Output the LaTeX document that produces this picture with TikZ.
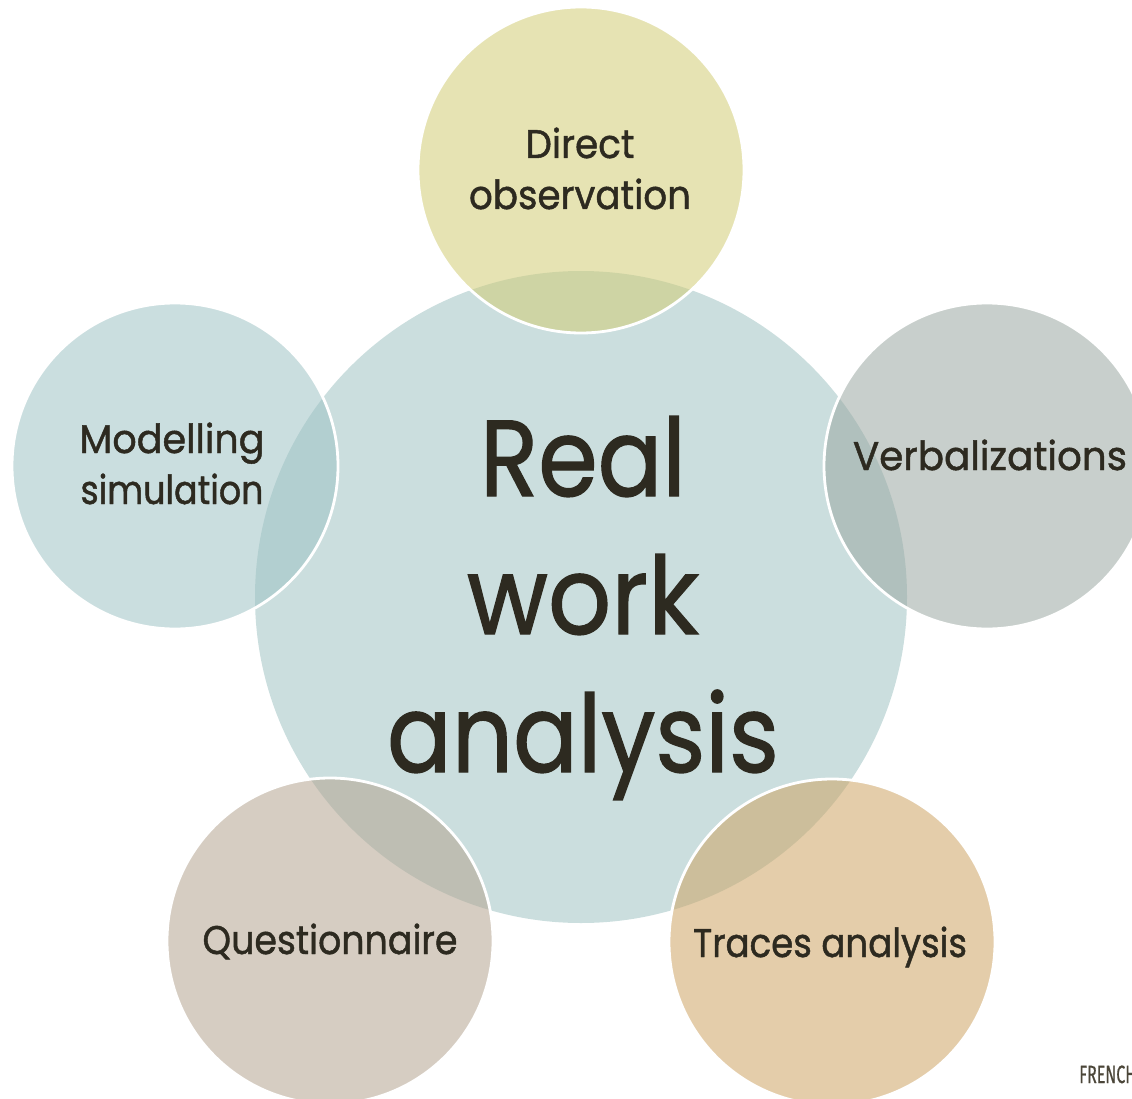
\documentclass[tikz,border=0pt]{standalone}
\usepackage{graphicx}
\usepackage{fontspec}
\setmainfont{Poppins}
\newfontfamily\labelfont{Poppins}[FakeBold=1.2]
\newfontfamily\notefont{Fira Sans}[FakeBold=0.6]

% squeeze or stretch one line of text to a given width, keeping its height
\newcommand{\fitline}[2]{\resizebox{#1pt}{\height}{#2}}

\definecolor{hubfill}{RGB}{203,222,222}
\definecolor{obsfill}{RGB}{210,204,117}
\definecolor{modfill}{RGB}{159,195,197}
\definecolor{verbfill}{RGB}{155,168,162}
\definecolor{questfill}{RGB}{180,164,144}
\definecolor{tracefill}{RGB}{206,164,100}
\definecolor{ink}{RGB}{45,42,32}
\definecolor{noteink}{RGB}{75,70,57}

\tikzset{
  satellite/.style={circle, minimum size=326pt, inner sep=0pt,
    fill=#1, fill opacity=0.55, draw=white, draw opacity=1, line width=2.8pt},
  lbl/.style={text=ink, inner sep=0pt, anchor=base,
    font=\labelfont\fontsize{40}{51}\selectfont},
  biglbl/.style={text=ink, inner sep=0pt, anchor=base,
    font=\labelfont\fontsize{108}{138}\selectfont},
}

\begin{document}
\begin{tikzpicture}[x=1pt,y=-1pt]
  \useasboundingbox (0,0) rectangle (1132,1099);
  \clip (0,0) rectangle (1132,1099);

  % central circle
  \node[circle, minimum size=652pt, inner sep=0pt, fill=hubfill] (hub) at (581,597) {};

  % five surrounding circles
  \node[satellite=obsfill]   (obs)   at (581,170) {};
  \node[satellite=modfill]   (model) at (175,466) {};
  \node[satellite=verbfill]  (verb)  at (987,466) {};
  \node[satellite=questfill] (quest) at (330,941) {};
  \node[satellite=tracefill] (trace) at (832,942) {};

  % labels
  \node[biglbl] (hub-t) at (583,496)
    {\begin{tabular}[t]{@{}c@{}}\fitline{206}{Real}\\\fitline{232}{work}\\\fitline{392}{analysis}\end{tabular}};
  \node[lbl] (obs-t) at (580,158)
    {\begin{tabular}[t]{@{}c@{}}\fitline{109}{Direct}\\\fitline{222}{observation}\end{tabular}};
  \node[lbl] (model-t) at (172,453)
    {\begin{tabular}[t]{@{}c@{}}\fitline{185}{Modelling}\\\fitline{183}{simulation}\end{tabular}};
  \node[lbl] (verb-t) at (990,470) {\fitline{274}{Verbalizations}};
  \node[lbl] (quest-t) at (330,954) {\fitline{255}{Questionnaire}};
  \node[lbl] (trace-t) at (830,957) {\fitline{274}{Traces analysis}};

  % footer note, running off the right edge
  \node[text=noteink, inner sep=0pt, anchor=base west,
        font=\notefont\fontsize{25}{30}\selectfont] (note) at (1079,1083)
    {\fitline{57}{FRENCH}};
\end{tikzpicture}
\end{document}
